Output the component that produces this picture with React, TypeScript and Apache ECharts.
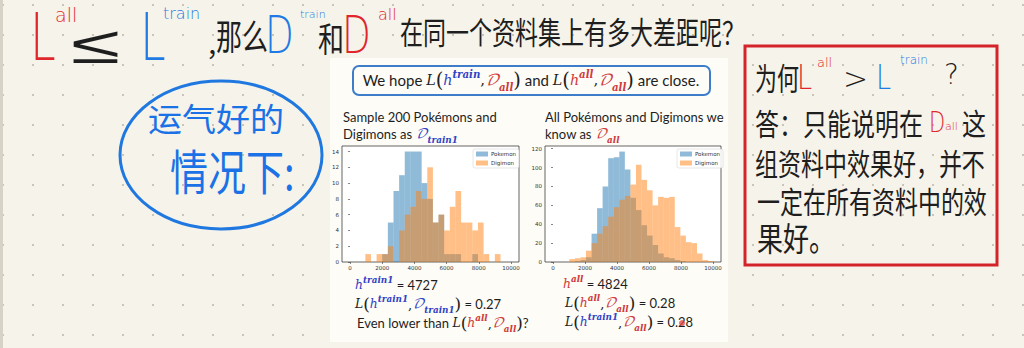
import React, { useEffect, useRef } from 'react';
import * as echarts from 'echarts';

// ---------------- data ----------------
const seriesNames = ['Pokemon', 'Digimon'];
const xTicks = [0, 2000, 4000, 6000, 8000, 10000];
const leftYTicks = [0, 2, 4, 6, 8, 10, 12, 14];
const rightYTicks = [0, 20, 40, 60, 80, 100, 120];

// Sample 200 (left) histogram: bin edges + counts
const leftEdges = [950, 1300, 1650, 2000, 2350, 2700, 3050, 3400, 3750, 4100, 4450, 4800, 5150, 5500, 5850, 6200, 6550, 6900, 7250, 7600, 7950, 8300, 8650, 9000, 9350];
const leftPokemon = [0, 0, 0, 1, 5, 9, 11, 14, 14, 14, 10, 8, 5, 6, 1, 1, 1, 0, 0, 1, 0, 0, 0, 0];
const leftDigimon = [1, 0, 1, 1, 2, 0, 4, 6, 7, 9, 8, 12, 5, 6, 4, 7, 9, 5, 5, 4, 5, 1, 0, 1];

// All (right) histogram
const rightEdges = [1020, 1370, 1715, 2060, 2410, 2755, 3100, 3450, 3800, 4145, 4490, 4840, 5185, 5530, 5880, 6225, 6570, 6920, 7265, 7610, 7960, 8305, 8650, 9000, 9345, 9690, 10040];
const rightPokemon = [0, 1, 2, 5, 30, 57, 80, 110, 111, 117, 98, 68, 55, 39, 28, 18, 9, 5, 4, 2, 1, 0, 0, 0, 0, 0];
const rightDigimon = [3, 4, 5, 12, 20, 30, 38, 48, 58, 66, 70, 82, 103, 87, 76, 60, 69, 68, 69, 37, 28, 21, 20, 9, 2, 1];

// ---------------- styles ----------------
const PAGE_BG = '#f6f3ea';
const SLIDE_BG = '#fdfcf7';
const BLUE_FILL = 'rgba(31,119,180,0.5)';
const ORANGE_FILL = 'rgba(255,127,14,0.5)';
const INK = '#1e1e1e';
const HAND = "'Noto Sans CJK SC', 'Noto Sans', sans-serif";
const LATIN_HAND = "'DejaVu Sans', 'Noto Sans', sans-serif";
const SANS = "Lato, 'Noto Sans', sans-serif";
const SERIF = "'DejaVu Serif', 'Liberation Serif', serif";
const CAL = "'DejaVu Math TeX Gyre', 'Noto Sans Math', 'DejaVu Serif', serif";
const BLUE_M = '#3142c4';
const RED_M = '#d0393a';
const RED_H = '#e0262c';
const BLUE_H = '#1f7be3';

const toBins = (edges: number[], counts: number[]) => counts.map((c, i) => [edges[i], edges[i + 1], c]);

function richFor(s: number) {
  const LH = Math.round(s * 1.5);
  const base: any = { fontSize: s, lineHeight: LH, fill: INK, fontFamily: SANS };
  const m = (color: string, italic = true) => ({ ...base, fontFamily: SERIF, fontStyle: italic ? 'italic' : 'normal', fontSize: s * 0.95, fill: color });
  const sup = (color: string) => ({ fontSize: s * 0.68, lineHeight: Math.round(s * 0.85), verticalAlign: 'top', fontFamily: SERIF, fontStyle: 'italic', fontWeight: 'bold', fill: color });
  const sub = (color: string) => ({ fontSize: s * 0.68, lineHeight: Math.round(s * 0.85), verticalAlign: 'bottom', fontFamily: SERIF, fontStyle: 'italic', fontWeight: 'bold', fill: color });
  return {
    t: base,
    i: m(INK),
    c: { ...base, fontFamily: SERIF },
    p: { ...base, fontFamily: SERIF, fontSize: s * 1.3, lineHeight: LH },
    hb: m(BLUE_M),
    hr: m(RED_M),
    db: { ...base, fontFamily: CAL, fontStyle: 'italic', fill: BLUE_M },
    dr: { ...base, fontFamily: CAL, fontStyle: 'italic', fill: RED_M },
    supb: sup(BLUE_M),
    supr: sup(RED_M),
    subb: sub(BLUE_M),
    subr: sub(RED_M),
  };
}

const mathText = (x: number, y: number, text: string, s: number, align = 'left') => ({
  type: 'text', x, y, z: 50,
  style: { text, rich: richFor(s), textAlign: align, textVerticalAlign: 'middle', fontSize: s, fontFamily: SANS, fill: INK },
});

const txt = (x: number, y: number, text: string, size: number, fill: string, o: any = {}) => ({
  type: 'text', x, y, z: 50, scaleX: o.sx ?? 1, scaleY: o.sy ?? 1,
  style: { text, fontSize: size, fontFamily: o.font ?? HAND, fill, textAlign: o.align ?? 'left', textVerticalAlign: 'middle', fontWeight: o.weight ?? 'normal' },
});

function buildOption() {
  const rectRender = (color: string) => (params: any, api: any) => {
    const p0 = api.coord([api.value(0), api.value(2)]);
    const p1 = api.coord([api.value(1), 0]);
    return { type: 'rect', shape: { x: p0[0], y: p0[1], width: p1[0] - p0[0], height: p1[1] - p0[1] }, style: { fill: color } };
  };
  const hist = (name: string, data: number[][], color: string, idx: number) => ({
    type: 'custom', name, xAxisIndex: idx, yAxisIndex: idx, data,
    encode: { x: [0, 1], y: 2 }, itemStyle: { color }, renderItem: rectRender(color), silent: true,
  });
  const xAx = (g: number) => ({
    gridIndex: g, type: 'value', min: -500, max: 10500,
    axisLine: { show: false }, splitLine: { show: false },
    axisTick: { show: true, length: 2, lineStyle: { color: '#333', width: 0.6 }, customValues: xTicks },
    axisLabel: { fontSize: 5.5, color: '#333', margin: 3, fontFamily: 'DejaVu Sans', customValues: xTicks, formatter: (v: number) => String(v) },
  });
  const yAx = (g: number, max: number, ticks: number[]) => ({
    gridIndex: g, type: 'value', min: 0, max,
    axisLine: { show: false }, splitLine: { show: false },
    axisTick: { show: true, length: 2, lineStyle: { color: '#333', width: 0.6 }, customValues: ticks },
    axisLabel: { fontSize: 5.5, color: '#333', margin: 3, fontFamily: 'DejaVu Sans', customValues: ticks, formatter: (v: number) => String(v) },
  });
  const legend = (left: number) => ({
    left, top: 149, orient: 'vertical', data: seriesNames, icon: 'rect',
    itemWidth: 12, itemHeight: 5, itemGap: 3, padding: [2, 3, 2, 3],
    borderColor: '#cccccc', borderWidth: 0.5, borderRadius: 2, backgroundColor: 'rgba(255,255,255,0.85)',
    textStyle: { fontSize: 5.5, color: '#333', fontFamily: 'DejaVu Sans', padding: [0, 0, 0, -2] },
    selectedMode: false,
  });

  const graphics: any[] = [
    { type: 'rect', z: -20, shape: { x: 0, y: 0, width: 3, height: 348 }, style: { fill: '#d6d2c7' } },
    // slide panel
    { type: 'rect', z: -10, shape: { x: 330, y: 58, width: 398, height: 284 }, style: { fill: SLIDE_BG } },
    { type: 'rect', z: 40, shape: { x: 353, y: 66, width: 357, height: 29, r: 6 }, style: { fill: 'none', stroke: '#3d7dca', lineWidth: 2 } },
    mathText(531, 80, '{t|We hope }{i|L}{p|(}{hb|h}{supb|train}{c|,}{dr|𝒟}{subr|all}{p|)}{t| and }{i|L}{p|(}{hr|h}{supr|all}{c|,}{dr|𝒟}{subr|all}{p|)}{t| are close.}', 15, 'center'),
    mathText(343, 117, '{t|Sample 200 Pokémons and}', 13),
    mathText(343, 134, '{t|Digimons as }{db|𝒟}{subb|train1}', 13),
    mathText(545, 117, '{t|All Pokémons and Digimons we}', 13),
    mathText(545, 134, '{t|know as }{dr|𝒟}{subr|all}', 13),
    mathText(355, 285, '{hb|h}{supb|train1}{t| = 4727}', 13),
    mathText(355, 304, '{i|L}{p|(}{hb|h}{supb|train1}{c|,}{db|𝒟}{subb|train1}{p|)}{t| = 0.27}', 13),
    mathText(357, 323, '{t|Even lower than }{i|L}{p|(}{hr|h}{supr|all}{c|,}{dr|𝒟}{subr|all}{p|)}{t|?}', 13),
    mathText(563, 284, '{hr|h}{supr|all}{t| = 4824}', 13),
    mathText(565, 303, '{i|L}{p|(}{hr|h}{supr|all}{c|,}{dr|𝒟}{subr|all}{p|)}{t| = 0.28}', 13),
    mathText(565, 322, '{i|L}{p|(}{hb|h}{supb|train1}{c|,}{dr|𝒟}{subr|all}{p|)}{t| = 0.28}', 13),
    { type: 'circle', z: 60, shape: { cx: 682, cy: 323, r: 3 }, style: { fill: 'rgba(228,60,60,0.75)' } },

    // top handwritten line
    txt(30, 37, 'L', 66, RED_H, { font: LATIN_HAND, sx: 0.7, weight: 200 }),
    txt(55, 15, 'all', 19, RED_H, { font: LATIN_HAND, weight: 200 }),
    txt(71, 45, '≤', 50, INK, { font: LATIN_HAND, sx: 1.8, sy: 1.05, weight: 200 }),
    txt(140, 37, 'L', 66, BLUE_H, { font: LATIN_HAND, sx: 0.7, weight: 200 }),
    txt(163, 13, 'train', 16, BLUE_H, { font: LATIN_HAND, weight: 200 }),
    txt(206, 44, '，', 26, INK),
    txt(216, 35, '那么', 26, INK, { sy: 1.35 }),
    txt(265, 35, 'D', 52, BLUE_H, { font: LATIN_HAND, sx: 0.72, weight: 200 }),
    txt(300, 14, 'train', 11, BLUE_H, { font: LATIN_HAND, weight: 200 }),
    txt(318, 37, '和', 26, INK, { sy: 1.3 }),
    txt(342, 35, 'D', 52, RED_H, { font: LATIN_HAND, sx: 0.72, weight: 200 }),
    txt(378, 14, 'all', 16, RED_H, { font: LATIN_HAND, weight: 200 }),
    txt(400, 30, '在同一个资料集上有多大差距呢？', 23, INK, { sy: 1.35 }),

    // blue ellipse note
    { type: 'ellipse', z: 30, shape: { cx: 221, cy: 155, rx: 101, ry: 74 }, style: { fill: 'none', stroke: '#1f78e0', lineWidth: 3 } },
    txt(148, 117, '运气好的', 34, '#1a72e6', { sy: 0.95 }),
    txt(170, 169, '情况下:', 38, '#1a72e6', { sy: 1.25 }),

    // red box note
    { type: 'rect', z: 30, shape: { x: 745, y: 46, width: 252, height: 219 }, style: { fill: 'none', stroke: '#d3242a', lineWidth: 3 } },
    txt(755, 77, '为何', 22, INK, { sy: 1.4 }),
    txt(797, 77, 'L', 34, RED_H, { font: LATIN_HAND, sx: 0.8, weight: 200 }),
    txt(817, 62, 'all', 13, RED_H, { font: LATIN_HAND, weight: 200 }),
    txt(843, 78, '>', 30, INK, { font: LATIN_HAND, weight: 200 }),
    txt(876, 77, 'L', 34, BLUE_H, { font: LATIN_HAND, sx: 0.8, weight: 200 }),
    txt(900, 60, 'train', 12, BLUE_H, { font: LATIN_HAND, weight: 200 }),
    txt(944, 74, '?', 28, INK, { font: LATIN_HAND, weight: 200 }),
    txt(755, 122, '答：只能说明在', 24, INK, { sy: 1.25 }),
    txt(929, 122, 'D', 28, RED_H, { font: LATIN_HAND, sx: 0.75, weight: 200 }),
    txt(945, 126, 'all', 11, RED_H, { font: LATIN_HAND, weight: 200 }),
    txt(962, 122, '这', 24, INK, { sy: 1.25 }),
    txt(755, 162, '组资料中效果好，并不', 23, INK, { sy: 1.3 }),
    txt(757, 200, '一定在所有资料中的效', 23, INK, { sy: 1.3 }),
    txt(757, 237, '果好。', 26, INK, { sy: 1.25 }),
  ];

  return {
    animation: false,
    backgroundColor: 'transparent',
    grid: [
      { left: 342, top: 146, width: 177, height: 116, show: true, borderColor: '#222', borderWidth: 0.7, backgroundColor: '#ffffff' },
      { left: 545, top: 146, width: 176, height: 116, show: true, borderColor: '#222', borderWidth: 0.7, backgroundColor: '#ffffff' },
    ],
    xAxis: [xAx(0), xAx(1)],
    yAxis: [yAx(0, 14.7, leftYTicks), yAx(1, 122.9, rightYTicks)],
    legend: [legend(473), legend(677)],
    series: [
      hist(seriesNames[0], toBins(leftEdges, leftPokemon), BLUE_FILL, 0),
      hist(seriesNames[1], toBins(leftEdges, leftDigimon), ORANGE_FILL, 0),
      hist(seriesNames[0], toBins(rightEdges, rightPokemon), BLUE_FILL, 1),
      hist(seriesNames[1], toBins(rightEdges, rightDigimon), ORANGE_FILL, 1),
    ],
    graphic: { elements: graphics },
  };
}

export default function App() {
  const ref = useRef<HTMLDivElement>(null);
  useEffect(() => {
    document.body.style.margin = '0';
    const chart = echarts.init(ref.current!, null, { renderer: 'svg', width: 1024, height: 348 });
    chart.setOption(buildOption() as any);
    return () => chart.dispose();
  }, []);
  return (
    <div
      ref={ref}
      style={{
        position: 'absolute', left: 0, top: 0, width: 1024, height: 348,
        backgroundColor: PAGE_BG,
        backgroundImage: 'radial-gradient(circle, #c9c5b9 0.9px, transparent 1.5px)',
        backgroundSize: '30px 30px',
        backgroundPosition: '-12px -10px',
      }}
    />
  );
}
